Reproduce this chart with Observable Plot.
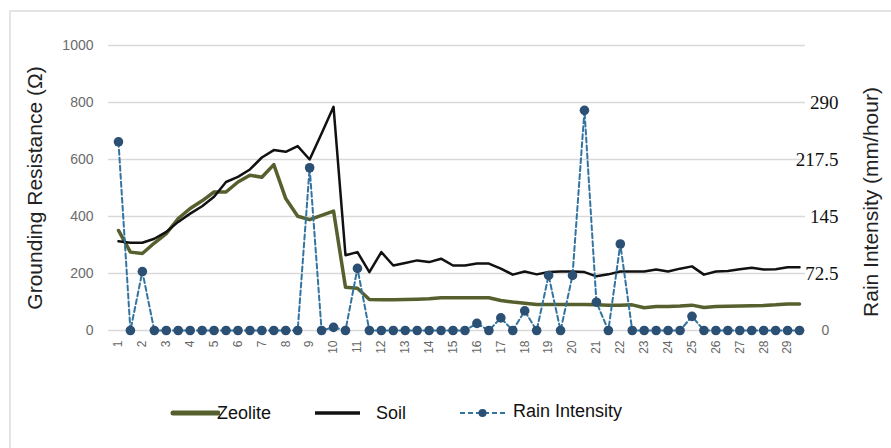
<!DOCTYPE html>
<html>
<head>
<meta charset="utf-8">
<script src="https://cdn.jsdelivr.net/npm/d3@7"></script>
<script src="https://cdn.jsdelivr.net/npm/@observablehq/plot@0.6"></script>
<style>
  html, body { margin: 0; padding: 0; background: #fff; }
  #wrap { position: relative; width: 891px; height: 448px; overflow: hidden; font-family: "Liberation Sans", Arial, sans-serif; }
  #frame { position: absolute; left: 9px; top: 10px; width: 1000px; height: 1000px; border-left: 2px solid #e4e4e4; border-top: 2px solid #e4e4e4; }
  #chart { position: absolute; left: 0; top: 0; }
  .leg { position: absolute; font-size: 18px; color: #111; line-height: 20px; }
  .sw { position: absolute; }
</style>
</head>
<body>
<div id="wrap">
  <div id="frame"></div>
  <div id="chart"></div>
  <svg class="sw" style="left:170px;top:405px" width="50" height="16"><line x1="3" y1="8" x2="48" y2="8" stroke="#56602e" stroke-width="5" stroke-linecap="round"/></svg>
  <div class="leg" style="left:217px;top:403px">Zeolite</div>
  <svg class="sw" style="left:313px;top:405px" width="50" height="16"><line x1="2" y1="8" x2="47" y2="8" stroke="#111" stroke-width="3.5"/></svg>
  <div class="leg" style="left:376px;top:403px">Soil</div>
  <svg class="sw" style="left:458px;top:405px" width="50" height="16"><line x1="2" y1="8" x2="47" y2="8" stroke="#3273a0" stroke-width="2" stroke-dasharray="5,3"/><circle cx="24.5" cy="8" r="4" fill="#2c4f74"/></svg>
  <div class="leg" style="left:513px;top:401px">Rain Intensity</div>
</div>
<script>
// Rain intensity (mm/hour), two readings per day from day 1 to day 29.5
const rain = [240, 0, 75, 0, 0, 0, 0, 0, 0, 0, 0, 0, 0, 0, 0, 0, 207, 0, 4, 0,
              79, 0, 0, 0, 0, 0, 0, 0, 0, 0, 9, 0, 16, 0, 25, 0, 70, 0, 70, 280,
              36, 0, 110, 0, 0, 0, 0, 0, 18, 0, 0, 0, 0, 0, 0, 0, 0, 0];
// Grounding resistance (Ω) of soil
const soil = [313, 308, 308, 322, 346, 381, 410, 436, 469, 521,
              539, 565, 607, 633, 627, 647, 600, 691, 785, 264,
              275, 205, 275, 228, 237, 246, 240, 252, 228, 228,
              235, 235, 217, 196, 207, 197, 205, 207, 207, 205,
              190, 197, 207, 207, 207, 214, 207, 217, 225, 196,
              207, 209, 215, 220, 214, 215, 222, 222];
// Grounding resistance (Ω) of zeolite
const zeolite = [351, 275, 270, 307, 340, 393, 428, 455, 486, 486,
                 521, 545, 538, 582, 463, 401, 389, 404, 419, 152,
                 148, 109, 108, 108, 109, 110, 111, 115, 115, 115,
                 115, 115, 105, 100, 96, 91, 91, 91, 91, 91,
                 90, 89, 89, 90, 80, 84, 84, 86, 89, 81,
                 84, 85, 86, 87, 88, 90, 93, 93];
const dayTicks = d3.range(1, 30);
const yTicks = [0, 200, 400, 600, 800, 1000];
const rainTicks = [72.5, 145, 217.5, 290];
const rainMax = 290, ohmAtRainMax = 800;
const k = ohmAtRainMax / rainMax;

const data = rain.map((r, i) => ({t: 1 + i / 2, rain: r, soil: soil[i], zeolite: zeolite[i]}));

const chart = Plot.plot({
  width: 891,
  height: 385,
  marginTop: 45,
  marginBottom: 55,
  marginLeft: 112,
  marginRight: 86,
  x: {domain: [0.75, 29.75]},
  y: {domain: [0, 1000]},
  style: {background: "transparent", fontFamily: "'Liberation Sans', Arial, sans-serif", overflow: "visible"},
  marks: [
    Plot.ruleY(yTicks, {stroke: "#d9d9d9", strokeWidth: 1.5, insetLeft: -4}),
    Plot.axisY({ticks: yTicks, tickSize: 0, tickPadding: 19, fontSize: 14, fill: "#6b6b6b", label: null, tickFormat: d => String(d)}),
    Plot.axisX({ticks: dayTicks, tickSize: 0, tickRotate: -90, tickPadding: 10, fontSize: 12, fill: "#666", label: null, tickFormat: d => String(d)}),
    Plot.line(data, {x: "t", y: "zeolite", stroke: "#56602e", strokeWidth: 3.5}),
    Plot.line(data, {x: "t", y: "soil", stroke: "#111", strokeWidth: 2.5}),
    Plot.line(data, {x: "t", y: d => d.rain * k, stroke: "#3273a0", strokeWidth: 2, strokeDasharray: "5,3"}),
    Plot.dot(data, {x: "t", y: d => d.rain * k, r: 4.8, fill: "#2c4f74"}),
    Plot.text(rainTicks, {y: d => d * k, text: d => String(d), frameAnchor: "right", dx: 33, textAnchor: "end", fontSize: 19, fontFamily: "'Liberation Serif', 'Times New Roman', serif", fill: "#111"}),
    Plot.text([0], {y: d => d, text: d => String(d), frameAnchor: "right", dx: 20, textAnchor: "middle", fontSize: 14, fill: "#6b6b6b"}),
    Plot.text(["Grounding Resistance (Ω)"], {frameAnchor: "left", dx: -77, rotate: -90, textAnchor: "middle", fontSize: 21, fill: "#222"}),
    Plot.text(["Rain Intensity (mm/hour)"], {frameAnchor: "right", dx: 66, dy: 14, rotate: -90, textAnchor: "middle", fontSize: 21, fill: "#222"})
  ]
});
document.getElementById("chart").appendChild(chart);
</script>
</body>
</html>
